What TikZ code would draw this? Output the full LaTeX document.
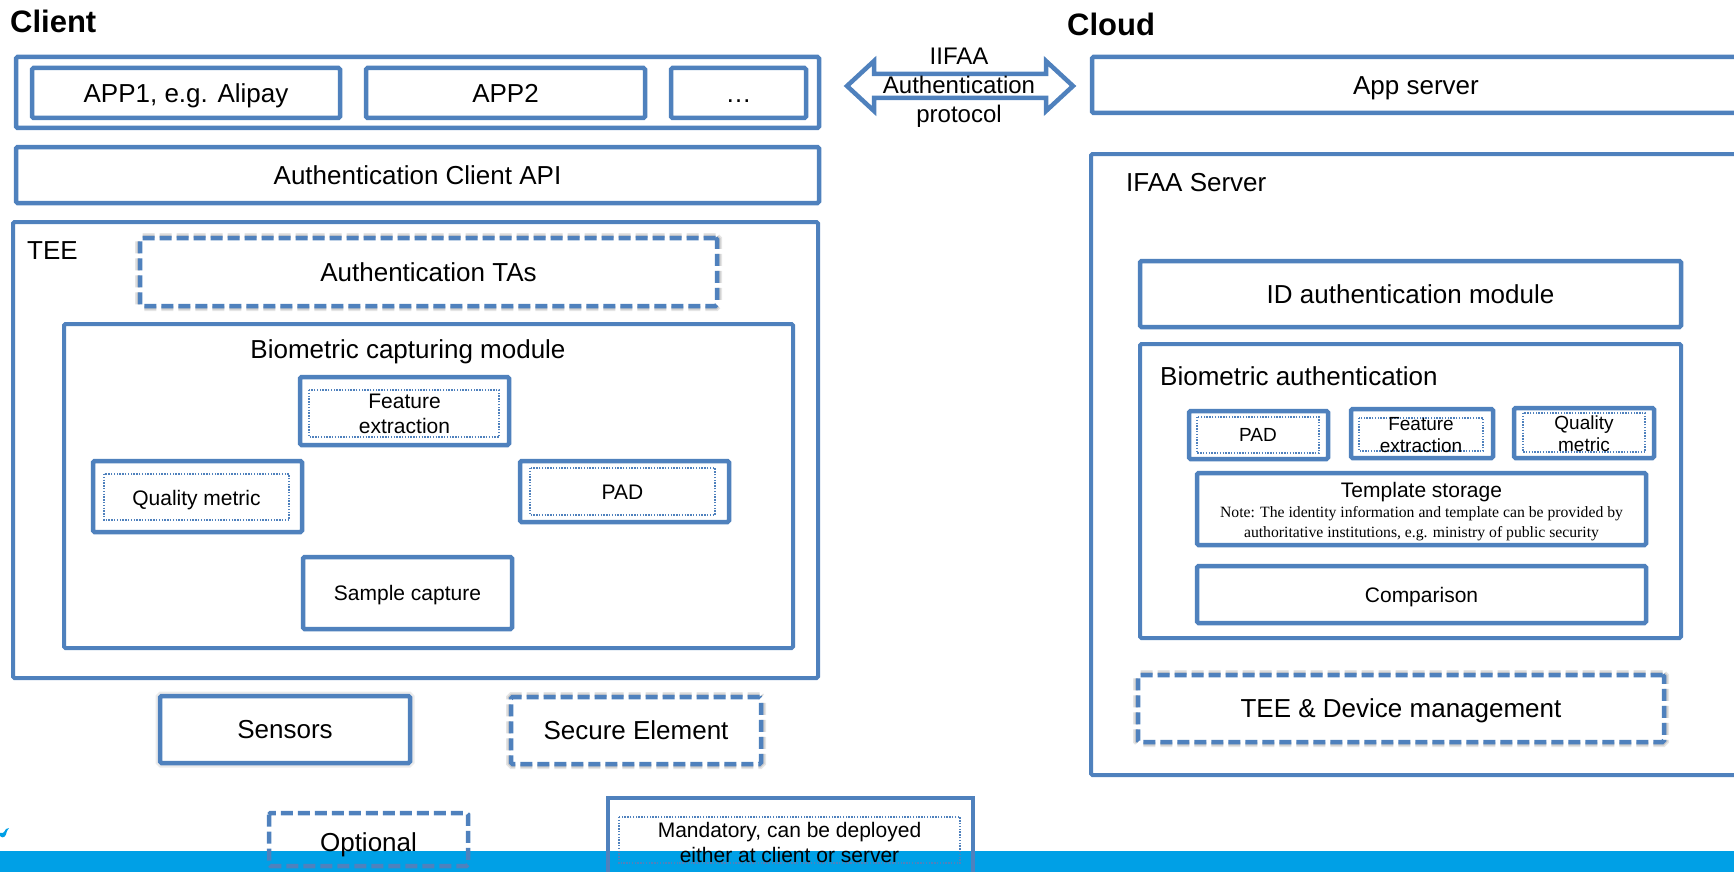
\documentclass[tikz,border=0pt]{standalone}
\usepackage{fontspec}
\setmainfont{Liberation Sans}
\newfontfamily\notefont{Liberation Serif}
\definecolor{bcol}{HTML}{4F81BD}
\definecolor{barcol}{HTML}{00A0E6}
\tikzset{
  box/.style={draw=bcol, line width=4.5pt, rounded corners=1.5pt, inner sep=0pt, align=center, fill=white},
  bigbox/.style={box, line width=4pt},
  dbox/.style={box, dash pattern=on 12pt off 5pt,
    preaction={draw=black, opacity=0.10, line width=10pt},
    preaction={draw=black, opacity=0.12, line width=7pt}},
  inner/.style={draw=bcol, line width=1.3pt, dash pattern=on 1.4pt off 1.4pt},
  main/.style={font=\fontsize{26}{30}\selectfont, align=center, text height=18.7pt, text depth=0pt},
  small/.style={font=\fontsize{21}{25}\selectfont, align=center, text height=15.1pt, text depth=0pt},
  tiny/.style={font=\fontsize{19}{22}\selectfont, align=center, text height=13.7pt, text depth=0pt},
  smallml/.style={font=\fontsize{21}{25}\selectfont, align=center, inner sep=0pt},
  tinyml/.style={font=\fontsize{19}{22}\selectfont, align=center, inner sep=0pt},
  ttl/.style={font=\fontsize{31}{36}\selectfont\bfseries, anchor=west, inner sep=0pt},
}
\begin{document}
\begin{tikzpicture}[x=1pt,y=-1pt]
\useasboundingbox (0,0) rectangle (1734,872);
% bottom bar
\fill[barcol] (0,851) rectangle (1734,872);
\fill[barcol] (0,836) .. controls (3,839) and (6,837) .. (7,831) -- (9,828) -- (6,829) .. controls (4,833) and (2,834) .. (0,833) -- cycle;

% titles
\node[ttl] (client) at (10,21) {Client};
\node[ttl] (cloud) at (1067,24) {Cloud};

% client side
\node[box, minimum width=803pt, minimum height=71pt] (appouter) at (417.5,92.5) {};
\node[box, main, minimum width=308pt, minimum height=50pt] (app1) at (186,93) {APP1, e.g. Alipay};
\node[box, main, minimum width=279pt, minimum height=50pt] (app2) at (505.5,93) {APP2};
\node[box, main, minimum width=135pt, minimum height=50pt] (appdots) at (738.5,93) {\dots};
\node[box, main, minimum width=803pt, minimum height=56pt] (api) at (417.5,175) {Authentication Client API};

\node[bigbox, minimum width=805pt, minimum height=456pt] (tee) at (415.5,450) {};
\node[main, anchor=west, inner sep=0pt] (teelbl) at (27,250) {TEE};
\node[dbox, main, minimum width=577pt, minimum height=68pt] (tas) at (428.5,272) {Authentication TAs};
\node[bigbox, minimum width=729pt, minimum height=324pt] (biocap) at (428.5,486) {};
\node[main, inner sep=0pt] (biocaplbl) at (408,349) {Biometric capturing module};

\node[box, minimum width=209pt, minimum height=68pt] (feat) at (404.5,411) {};
\draw[inner] (309,390) rectangle (499,437);
\node[smallml] (featlbl) at (404.5,414) {Feature\\extraction};

\node[box, minimum width=209pt, minimum height=71pt] (qual) at (197.5,496.5) {};
\draw[inner] (104,474) rectangle (289,520);
\node[small, inner sep=0pt] (quallbl) at (196.5,498) {Quality metric};

\node[box, minimum width=209pt, minimum height=61pt] (pad) at (624.5,491.5) {};
\draw[inner] (530,468) rectangle (715,515);
\node[small, inner sep=0pt] (padlbl) at (622.5,492) {PAD};

\node[box, small, minimum width=209pt, minimum height=72pt] (sample) at (407.5,593) {Sample capture};

\node[box, main, minimum width=250pt, minimum height=67pt,
  preaction={draw=black, opacity=0.08, line width=9pt}] (sensors) at (285,729.5) {Sensors};
\node[dbox, main, minimum width=250pt, minimum height=67pt] (se) at (636,730.5) {Secure Element};

% legend
\draw[bcol, line width=4.5pt, dash pattern=on 12pt off 5pt, rounded corners=1.5pt]
  (269,813) rectangle (468,866);
\node[main, inner sep=0pt] (opt) at (368.5,842) {Optional};
\draw[bcol, line width=4.5pt] (608,880) -- (608,798) -- (973,798) -- (973,880);
\draw[inner] (619,817) rectangle (960,863);
\node[smallml] (mand) at (789.5,842)
  {Mandatory, can be deployed\\either at client or server};

% arrow
\draw[bcol, line width=4.5pt, line join=miter, fill=white]
  (847,86) -- (874,61) -- (874,74) -- (1046,74) -- (1046,61) -- (1073,86)
  -- (1046,111) -- (1046,98) -- (874,98) -- (874,111) -- cycle;
\node[align=center, inner sep=0pt, font=\fontsize{24}{29}\selectfont] (proto) at (959,88)
  {IIFAA\\Authentication\\protocol};

% cloud side
\node[box, main, minimum width=648pt, minimum height=56pt] (appsrv) at (1416,85) {App server};
\node[bigbox, minimum width=649pt, minimum height=621pt] (ifaa) at (1415.5,464.5) {};
\node[main, anchor=west, inner sep=0pt] (ifaalbl) at (1126,182) {IFAA Server};
\node[box, main, minimum width=541pt, minimum height=66pt] (idauth) at (1410.5,294) {ID authentication module};
\node[bigbox, minimum width=541pt, minimum height=294pt] (bioauth) at (1410.5,491) {};
\node[main, anchor=west, inner sep=0pt] (bioauthlbl) at (1160,376) {Biometric authentication};

\node[box, minimum width=139pt, minimum height=48pt] (pad2) at (1258.5,435) {};
\draw[inner] (1197,417) rectangle (1319,453);
\node[tiny, inner sep=0pt] (pad2lbl) at (1258,435) {PAD};
\node[box, minimum width=142pt, minimum height=49pt] (feat2) at (1422,433.5) {};
\draw[inner] (1359,418) rectangle (1483,451);
\node[tinyml] (feat2lbl) at (1421,435) {Feature\\extraction};
\node[box, minimum width=140pt, minimum height=50pt] (qual2) at (1584,433) {};
\draw[inner] (1523,413) rectangle (1645,452);
\node[tinyml] (qual2lbl) at (1584,434) {Quality\\metric};

\node[box, minimum width=449pt, minimum height=72pt] (tmpl) at (1421.5,509) {};
\node[small, inner sep=0pt] (tmpllbl) at (1421.5,490) {Template storage};
\node[inner sep=0pt, align=center, font=\notefont\fontsize{15.7}{20}\selectfont] (note) at (1421.5,524)
  {Note: The identity information and template can be provided by\\authoritative institutions, e.g. ministry of public security};
\node[box, small, minimum width=449pt, minimum height=57pt] (cmp) at (1421.5,594.5) {Comparison};
\node[dbox, main, minimum width=526pt, minimum height=67pt] (teedev) at (1401,708.5) {TEE \& Device management};
\end{tikzpicture}
\end{document}
